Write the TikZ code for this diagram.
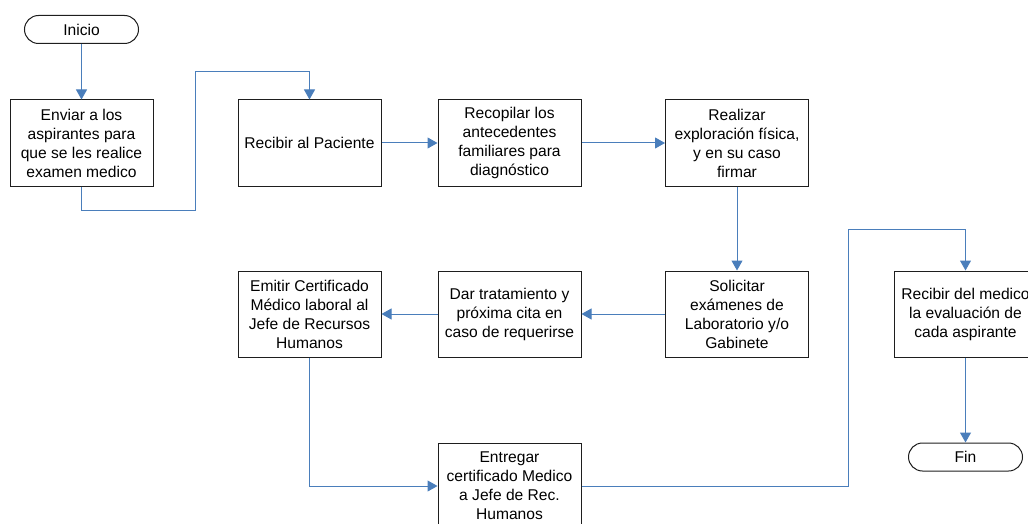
\documentclass[tikz,border=0pt]{standalone}
\usepackage{fontspec}
\setmainfont{Liberation Sans}
\usetikzlibrary{arrows.meta,shapes.misc}
\definecolor{flow}{RGB}{74,126,187}
\definecolor{edge}{RGB}{30,30,30}
\tikzset{
  stepbox/.style={draw=edge, line width=1pt, fill=white, minimum width=143pt, minimum height=86pt,
    inner sep=0pt, align=center, font=\fontsize{15.6}{19}\selectfont},
  terminal/.style={draw=edge, line width=1pt, rounded rectangle, minimum width=114pt, minimum height=28pt,
    inner sep=0pt, font=\fontsize{15.6}{19}\selectfont},
  flowline/.style={draw=flow, line width=1pt, -{Triangle[length=10pt,width=11pt]}}
}
\begin{document}
\begin{tikzpicture}[x=1pt,y=-1pt]
\useasboundingbox (0,0) rectangle (1028,524);
\clip (0,0) rectangle (1028,524);
% terminals
\node[terminal] (inicio) at (81.5,29.5) {Inicio};
\node[terminal] (fin) at (965.5,457) {Fin};
% process steps
\node[stepbox] (b1) at (81.5,143) {Enviar a los\\aspirantes para\\que se les realice\\examen medico};
\node[stepbox] (b2) at (309.5,143) {Recibir al Paciente};
\node[stepbox] (b3) at (509.5,143) {Recopilar los\\antecedentes\\familiares para\\diagnóstico};
\node[stepbox] (b4) at (737,143) {Realizar\\exploración física,\\y en su caso\\firmar};
\node[stepbox] (b5) at (737,314) {Solicitar\\exámenes de\\Laboratorio y/o\\Gabinete};
\node[stepbox] (b6) at (509.5,314) {Dar tratamiento y\\próxima cita en\\caso de requerirse};
\node[stepbox] (b7) at (309.5,314) {Emitir Certificado\\Médico laboral al\\Jefe de Recursos\\Humanos};
\node[stepbox] (b8) at (509.5,486) {Entregar\\certificado Medico\\a Jefe de Rec.\\Humanos};
\node[stepbox] (b9) at (965.5,314) {Recibir del medico\\la evaluación de\\cada aspirante};
% bend points
\coordinate (p1) at (81.5,210);
\coordinate (p2) at (195,210);
\coordinate (p3) at (195,72);
\coordinate (p4) at (309.5,72);
\coordinate (q1) at (848,486);
\coordinate (q2) at (848,229);
\coordinate (q3) at (965.5,229);
% connectors
\draw[flowline] (inicio) -- (b1);
\draw[flowline] (b1.south) -- (p1) -- (p2) -- (p3) -- (p4) -- (b2.north);
\draw[flowline] (b2) -- (b3);
\draw[flowline] (b3) -- (b4);
\draw[flowline] (b4) -- (b5);
\draw[flowline] (b5) -- (b6);
\draw[flowline] (b6) -- (b7);
\draw[flowline] (b7.south) |- (b8.west);
\draw[flowline] (b8.east) -- (q1) -- (q2) -- (q3) -- (b9.north);
\draw[flowline] (b9) -- (fin);
\end{tikzpicture}
\end{document}
